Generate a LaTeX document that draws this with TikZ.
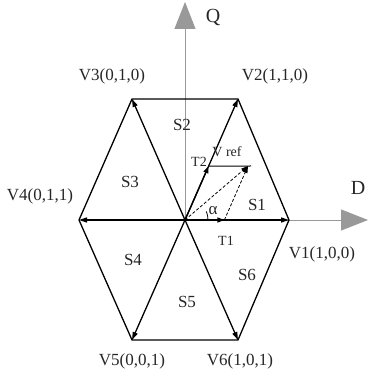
\documentclass[tikz,border=0pt]{standalone}
\usepackage{fontspec}
\setmainfont{Liberation Serif}
\usetikzlibrary{arrows.meta,calc}
\tikzset{
  hexline/.style={draw=black, line width=1.3pt},
  hexarr/.style={-{Triangle[length=8pt,width=5pt]}, draw=black, line width=1.3pt},
  axisarr/.style={-{Triangle[length=27pt,width=21pt]}, draw=gray!80, line width=0.9pt},
  veclab/.style={font=\fontsize{17}{17}\selectfont, inner sep=0pt, text=black!85},
  seclab/.style={font=\fontsize{17}{17}\selectfont, inner sep=0pt, text=black!85},
  smalllab/.style={font=\fontsize{14}{14}\selectfont, inner sep=0pt, text=black!85},
  axislab/.style={font=\fontsize{20}{20}\selectfont, inner sep=0pt, text=black!85},
  refarr/.style={-{Triangle[length=7pt,width=4.5pt]}, draw=black, line width=0.8pt,
                 dash pattern=on 3pt off 2pt},
}

\begin{document}
\begin{tikzpicture}[x=1pt,y=1pt]
\useasboundingbox (0,0) rectangle (369,374);
% hexagon corners
\coordinate (o) at (185,154);
\coordinate (v1) at (289,154);
\coordinate (v2) at (238,275);
\coordinate (v3) at (132,275);
\coordinate (v4) at (79,154);
\coordinate (v5) at (132,34);
\coordinate (v6) at (238,34);
\coordinate (qtip) at (185,372);
\coordinate (dtip) at (368,154);
% axes
\draw[axisarr] (o) -- (qtip);
\draw[axisarr] (o) -- (dtip);
\node[axislab] (qlab) at (213,356) {Q};
\node[axislab] (dlab) at (358,186) {D};
% outer edges
\draw[hexline] (v1) -- (v2) -- (v3) -- (v4) -- (v5) -- (v6) -- cycle;
% spokes
\foreach \v in {v1,v2,v3,v4,v5,v6}{%
  \draw[hexarr] (o) -- (\v);
}
% reference vector
\coordinate (t2) at ($(o)!0.445!(v2)$);
\coordinate (t1) at (224.4,154);
\coordinate (vref) at (248,208);
\draw[-{Triangle[length=7pt,width=5pt]}, line width=1.3pt] (o) -- (t2);
\draw[-{Triangle[length=7pt,width=5pt]}, line width=1.3pt] (o) -- (t1);
\draw[line width=1pt] (t2) -- ($(vref)+(3,0)$);
\draw[refarr] (o) -- (vref);
\draw[refarr] (t1) -- (vref);
\draw[line width=0.8pt] ($(o)+(23,0)$) arc[start angle=0, end angle=22, radius=23];
\node[smalllab, font=\fontsize{17}{17}\selectfont] (alab) at (213,163) {α};
\node[smalllab] (t1lab) at (226,133) {T1};
\node[smalllab] (t2lab) at (199,212) {T2};
\node[smalllab] (vreflab) at (227,222) {V ref};
% vector labels
\node[veclab] (l1) at (322,120) {V1(1,0,0)};
\node[veclab] (l2) at (275,298) {V2(1,1,0)};
\node[veclab] (l3) at (112,298) {V3(0,1,0)};
\node[veclab] (l4) at (40,178) {V4(0,1,1)};
\node[veclab] (l5) at (132,13) {V5(0,0,1)};
\node[veclab] (l6) at (240,13) {V6(1,0,1)};
% sectors
\node[seclab] (s1) at (257,169) {S1};
\node[seclab] (s2) at (182,249) {S2};
\node[seclab] (s3) at (130,192) {S3};
\node[seclab] (s4) at (133,114) {S4};
\node[seclab] (s5) at (187,72) {S5};
\node[seclab] (s6) at (247,99) {S6};
\end{tikzpicture}
\end{document}
